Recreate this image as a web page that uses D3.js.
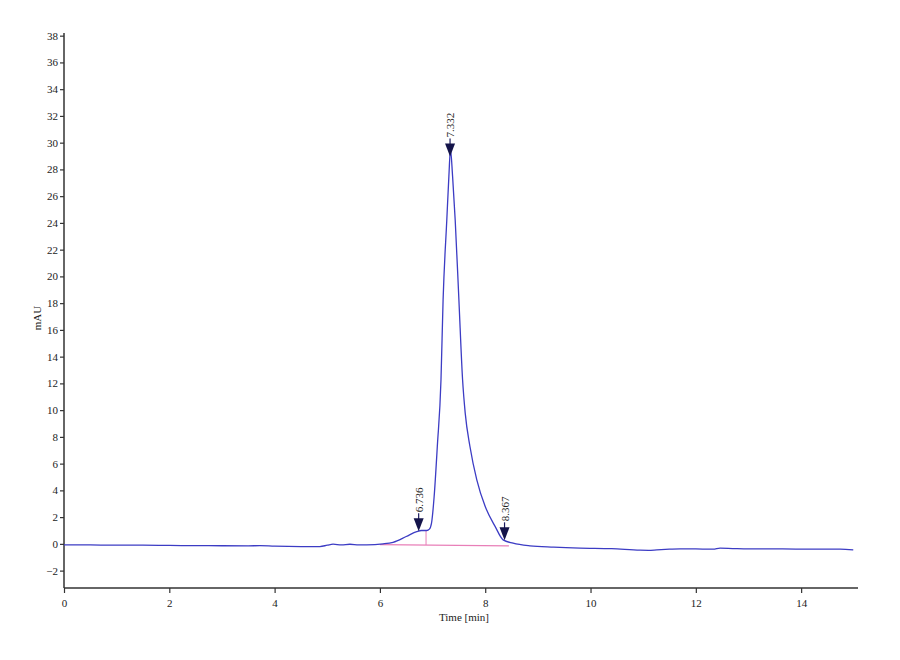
<!DOCTYPE html>
<html>
<head>
<meta charset="utf-8">
<script src="https://cdn.jsdelivr.net/npm/d3@7"></script>
<style>
body { margin: 0; background: #fff; }
text { font-family: "Liberation Serif", "DejaVu Serif", serif; fill: #222; }
</style>
</head>
<body>
<svg id="chart" width="900" height="660"></svg>
<script>

// trace (time in min, signal in mAU)
var times = [0, 0.5, 1.0, 1.5, 2.0, 2.5, 3.0, 3.5, 3.72, 4.0, 4.5, 4.86, 5.0, 5.11, 5.27, 5.43, 5.6, 5.75, 6.06, 6.25, 6.5, 6.7, 6.79, 6.89, 6.94, 6.98, 7.03, 7.09, 7.16, 7.2, 7.27, 7.31, 7.34, 7.38, 7.43, 7.5, 7.57, 7.62, 7.71, 7.84, 8.0, 8.19, 8.34, 8.53, 8.85, 9.3, 9.8, 10.4, 10.94, 11.1, 11.26, 11.5, 11.7, 12.0, 12.33, 12.46, 12.7, 13.0, 13.6, 14.2, 14.74, 14.99]
var signal = [-0.07, -0.08, -0.1, -0.1, -0.12, -0.13, -0.14, -0.15, -0.13, -0.17, -0.2, -0.2, -0.1, -0.02, -0.08, -0.03, -0.07, -0.07, 0.0, 0.12, 0.55, 0.92, 1.0, 1.0, 1.1, 1.55, 3.54, 7.28, 12.27, 18.25, 24.2, 27.5, 29.5, 27.5, 24.2, 18.25, 12.27, 9.78, 7.28, 4.79, 2.79, 1.29, 0.3, 0.05, -0.15, -0.25, -0.32, -0.36, -0.47, -0.48, -0.45, -0.4, -0.37, -0.38, -0.4, -0.32, -0.35, -0.38, -0.38, -0.4, -0.4, -0.45]

// peak marks
var peakTimes = [6.736, 7.332, 8.367]
var peakLabels = ['6.736', '7.332', '8.367']

// integration baseline and drop line
var baseTimes = [6.0, 8.45]
var baseValues = [-0.05, -0.15]
var dropTime = 6.876

var yTicks = [-2, 0, 2, 4, 6, 8, 10, 12, 14, 16, 18, 20, 22, 24, 26, 28, 30, 32, 34, 36, 38]
var xTicks = [0, 2, 4, 6, 8, 10, 12, 14]

var svg = d3.select('#chart')

var x = d3.scaleLinear().domain([0, 15.08]).range([64, 858])
var y = d3.scaleLinear().domain([-3.3, 38.2]).range([588, 33])

var pts = times.map(function(t, i) { return [t, signal[i]] })

// value of the trace at time t (linear between read points)
function traceAt(t) {
	for (var i = 1; i < times.length; i++) {
		if (times[i] >= t) {
			var f = (t - times[i-1]) / (times[i] - times[i-1])
			return signal[i-1] + f * (signal[i] - signal[i-1])
		}
	}
	return signal[signal.length-1]
}

var serif = '"Liberation Serif", "DejaVu Serif", serif'

// axes
var yAxis = d3.axisLeft(y).tickValues(yTicks).tickSize(4).tickPadding(2)
var gy = svg.append('g')
	.attr('transform', 'translate(' + x(0) + ',0)')
	.call(yAxis)
	.attr('font-family', serif)
gy.select('.domain').attr('d', 'M0,' + y(38.2) + 'V' + y(-3.3)).attr('stroke', '#333').attr('stroke-width', 1.5)
gy.selectAll('.tick line').attr('stroke', '#333').attr('stroke-width', 1.2)
gy.selectAll('.tick text').style('font-size', '11px').attr('fill', '#333')

var xAxis = d3.axisBottom(x).tickValues(xTicks).tickSize(5).tickPadding(6)
var gx = svg.append('g')
	.attr('transform', 'translate(0,' + y(-3.3) + ')')
	.call(xAxis)
	.attr('font-family', serif)
gx.select('.domain').attr('d', 'M' + x(0) + ',0H' + x(15.08)).attr('stroke', '#333').attr('stroke-width', 1.5)
gx.selectAll('.tick line').attr('stroke', '#333').attr('stroke-width', 1.2)
gx.selectAll('.tick text').style('font-size', '11px').attr('fill', '#333')

svg.append('text')
	.attr('x', 464)
	.attr('y', 621)
	.attr('text-anchor', 'middle')
	.style('font-size', '11px')
	.text('Time [min]')

svg.append('text')
	.attr('transform', 'translate(41,' + 318 + ') rotate(-90)')
	.attr('text-anchor', 'middle')
	.style('font-size', '11px')
	.text('mAU')

// pink baseline + drop line
svg.append('line')
	.attr('x1', x(baseTimes[0])).attr('y1', y(baseValues[0]))
	.attr('x2', x(baseTimes[1])).attr('y2', y(baseValues[1]))
	.attr('stroke', '#e87fb8').attr('stroke-width', 1.2)

var dropBase = baseValues[0] + (dropTime - baseTimes[0]) / (baseTimes[1] - baseTimes[0]) * (baseValues[1] - baseValues[0])
svg.append('line')
	.attr('x1', x(dropTime)).attr('y1', y(dropBase))
	.attr('x2', x(dropTime)).attr('y2', y(traceAt(dropTime)))
	.attr('stroke', '#e87fb8').attr('stroke-width', 1)

// the trace
var line = d3.line()
	.x(function(d) { return x(d[0]) })
	.y(function(d) { return y(d[1]) })
	.curve(d3.curveMonotoneX)

svg.append('path')
	.datum(pts)
	.attr('d', line)
	.attr('fill', 'none')
	.attr('stroke', '#3c3cc4')
	.attr('stroke-width', 1.3)

// peak arrows and labels
var marks = svg.append('g').selectAll('g')
	.data(peakTimes)
	.enter()
	.append('g')
	.attr('transform', function(d) { return 'translate(' + x(d) + ',' + y(traceAt(d)) + ')' })

marks.append('line')
	.attr('x1', 0).attr('y1', -12).attr('x2', 0).attr('y2', -18)
	.attr('stroke', '#1a1a5e').attr('stroke-width', 1.2)

marks.append('path')
	.attr('d', 'M-5,-13L5,-13L0,0Z')
	.attr('fill', '#14144a')

marks.append('text')
	.attr('transform', 'translate(4,-19) rotate(-90)')
	.attr('text-anchor', 'start')
	.style('font-size', '11px')
	.text(function(d, i) { return peakLabels[i] })

</script>
</body>
</html>
